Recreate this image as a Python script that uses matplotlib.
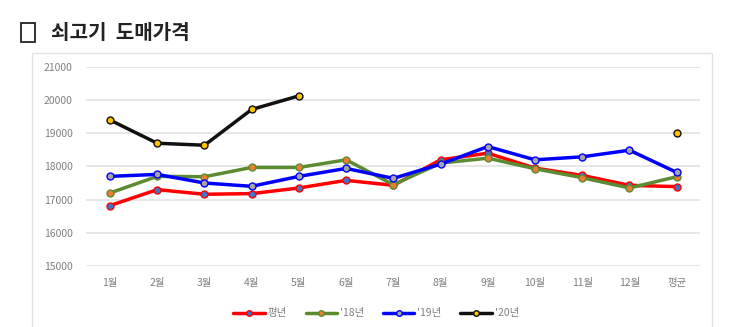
import matplotlib
matplotlib.use("Agg")
import matplotlib.pyplot as plt
from matplotlib.patches import Rectangle
import numpy as np

plt.rcParams['font.family'] = ['Noto Sans CJK KR', 'DejaVu Sans']

# data
months = ['1월', '2월', '3월', '4월', '5월', '6월', '7월', '8월', '9월',
          '10월', '11월', '12월', '평균']
normal = [16820, 17300, 17160, 17180, 17350, 17580, 17430, 18200, 18400,
          17950, 17730, 17430, 17390]
y2018 = [17200, 17700, 17690, 17970, 17970, 18200, 17450, 18100, 18250,
         17930, 17660, 17350, 17690]
y2019 = [17700, 17760, 17500, 17400, 17700, 17940, 17640, 18070, 18600,
         18200, 18290, 18490, 17820]
y2020 = [19400, 18700, 18640, 19720, 20130, None, None, None, None,
         None, None, None, 19010]
series_names = ['평년', "'18년", "'19년", "'20년"]

fig = plt.figure(figsize=(7.45, 3.27), dpi=100)
ax = fig.add_axes([0.116, 0.187, 0.824, 0.608])

x = np.arange(len(months))
styles = [
    ('#FF0000', '#4472C4'),
    ('#5B8C32', '#ED7D31'),
    ('#0000FF', '#A5A5A5'),
    ('#111111', '#FFC000'),
]
for vals, name, (lc, mc) in zip([normal, y2018, y2019, y2020], series_names, styles):
    v = np.array([np.nan if a is None else a for a in vals], dtype=float)
    ax.plot(x, v, color=lc, lw=2.5, marker='o', ms=5, mfc=mc, mec=lc,
            mew=1.0, label=name, solid_capstyle='round')

ax.set_xlim(-0.5, 12.5)
ax.set_ylim(15000, 21000)
ax.set_yticks(range(15000, 21001, 1000))
ax.set_xticks(x)
ax.set_xticklabels(months)
ax.tick_params(axis='both', length=0, labelsize=7.5, colors='#7f7f7f')
ax.tick_params(axis='x', pad=9)
ax.tick_params(axis='y', pad=10)
ax.grid(axis='y', color='#e3e3e3', lw=1.2)
ax.set_axisbelow(True)
for s in ax.spines.values():
    s.set_visible(False)

leg = fig.legend(loc='center', bbox_to_anchor=(0.505, 0.042), ncol=4,
                 frameon=False, fontsize=7.5, handlelength=3.0,
                 columnspacing=1.8, handletextpad=0.3, markerscale=0.8)
for t in leg.get_texts():
    t.set_color('#7f7f7f')

# chart frame
fig.patches.append(Rectangle((0.043, -0.05), 0.913, 0.888, transform=fig.transFigure,
                             fill=False, ec='#e2e2e2', lw=1.0))

# title
fig.patches.append(Rectangle((0.028, 0.872), 0.019, 0.058, transform=fig.transFigure,
                             fill=False, ec='#222222', lw=1.3))
fig.text(0.068, 0.900, '쇠고기  도매가격', fontsize=14.5, fontweight='bold',
         va='center', ha='left', color='#222222')

fig.savefig('out.png', dpi=100)
